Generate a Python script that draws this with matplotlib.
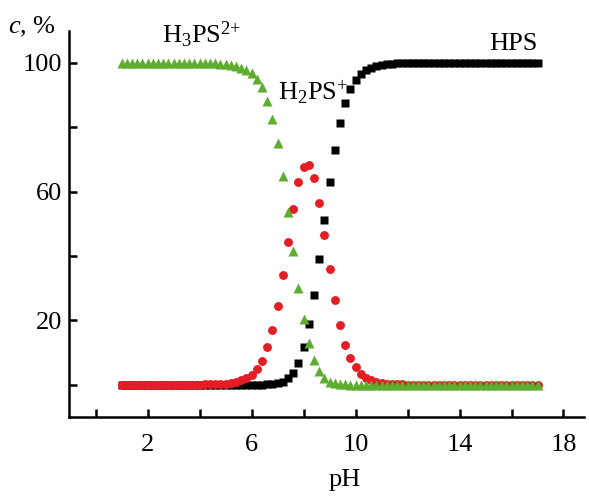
"""Species distribution of H3PS2+ / H2PS+ / HPS versus pH."""

import matplotlib

matplotlib.use("Agg")
import matplotlib.pyplot as plt

# ---------------------------------------------------------------------------
# Data, pH 1.0 ... 17.0 in 0.2 steps
# ---------------------------------------------------------------------------

PH = [
    1.0, 1.2, 1.4, 1.6, 1.8, 2.0, 2.2, 2.4, 2.6, 2.8,
    3.0, 3.2, 3.4, 3.6, 3.8, 4.0, 4.2, 4.4, 4.6, 4.8,
    5.0, 5.2, 5.4, 5.6, 5.8, 6.0, 6.2, 6.4, 6.6, 6.8,
    7.0, 7.2, 7.4, 7.6, 7.8, 8.0, 8.2, 8.4, 8.6, 8.8,
    9.0, 9.2, 9.4, 9.6, 9.8, 10.0, 10.2, 10.4, 10.6, 10.8,
    11.0, 11.2, 11.4, 11.6, 11.8, 12.0, 12.2, 12.4, 12.6, 12.8,
    13.0, 13.2, 13.4, 13.6, 13.8, 14.0, 14.2, 14.4, 14.6, 14.8,
    15.0, 15.2, 15.4, 15.6, 15.8, 16.0, 16.2, 16.4, 16.6, 16.8,
    17.0,
]

# H3PS2+
H3PS = (
    [100.0] * 15
    + [100.0, 99.9, 99.9, 99.9, 99.8, 99.6, 99.4, 99.1, 98.6, 97.9,
       96.8, 95.1, 92.5, 88.3, 82.6, 75.0, 64.8, 53.6, 41.6, 30.2,
       20.6, 13.0, 7.8, 4.3, 2.1, 1.0, 0.5, 0.2, 0.1, 0.0,
       0.0, 0.0, 0.0, 0.0, 0.0, 0.0, 0.0, 0.0, 0.0, 0.0]
    + [0.0] * 26
)

# H2PS+
H2PS = (
    [0.0] * 15
    + [0.0, 0.1, 0.1, 0.1, 0.2, 0.4, 0.6, 0.9, 1.4, 2.1,
       3.2, 4.9, 7.5, 11.7, 17.1, 24.5, 34.2, 44.3, 54.7, 63.0,
       67.6, 68.2, 64.2, 56.5, 46.6, 36.0, 26.5, 18.6, 12.4, 8.2,
       5.4, 3.5, 2.2, 1.4, 0.9, 0.6, 0.4, 0.2, 0.1, 0.1]
    + [0.0] * 26
)

# HPS
HPS = (
    [0.0] * 15
    + [0.0, 0.0, 0.0, 0.0, 0.0, 0.0, 0.0, 0.0, 0.0, 0.0,
       0.0, 0.0, 0.0, 0.1, 0.2, 0.5, 1.0, 2.1, 3.7, 6.8,
       11.8, 18.8, 28.0, 39.2, 51.3, 63.0, 73.0, 81.2, 87.5, 91.8,
       94.6, 96.5, 97.8, 98.6, 99.1, 99.4, 99.6, 99.8, 99.9, 99.9]
    + [100.0] * 26
)

X_TICKS = [0, 2, 4, 6, 8, 10, 12, 14, 16, 18]
X_TICK_LABELS = ["", "2", "", "6", "", "10", "", "14", "", "18"]
Y_TICKS = [0, 20, 40, 60, 80, 100]
Y_TICK_LABELS = ["", "20", "", "60", "", "100"]

GREEN = "#5dae2e"
RED = "#e51e25"
BLACK = "#000000"

plt.rcParams.update({
    "font.family": ["Liberation Serif", "DejaVu Serif"],
    "mathtext.fontset": "custom",
    "mathtext.rm": "Liberation Serif",
    "mathtext.it": "Liberation Serif:italic",
    "font.size": 19,
})

fig = plt.figure(figsize=(5.89, 4.97), dpi=100)
ax = fig.add_axes([0.117, 0.161, 0.875, 0.777])

ax.plot(PH, HPS, ls="none", marker="s", ms=5.6, color=BLACK,
        mec="none", zorder=3)
ax.plot(PH, H2PS, ls="none", marker="o", ms=6.4, color=RED,
        mec="none", zorder=4)
ax.plot(PH, H3PS, ls="none", marker="^", ms=7.0, color=GREEN,
        mec="none", zorder=5)

ax.set_xlim(-1.03, 18.8)
ax.set_ylim(-10, 110)

ax.set_xticks(X_TICKS)
ax.set_xticklabels(X_TICK_LABELS)
ax.set_yticks(Y_TICKS)
ax.set_yticklabels(Y_TICK_LABELS)
ax.tick_params(direction="in", length=6, width=1.8, labelsize=19)
ax.tick_params(axis="x", pad=12)
ax.tick_params(axis="y", pad=5)

for side in ("top", "right"):
    ax.spines[side].set_visible(False)
for side in ("left", "bottom"):
    ax.spines[side].set_linewidth(1.8)

ax.set_xlabel("pH", fontsize=19)
ax.xaxis.set_label_coords(0.535, -0.135)

fig.text(8 / 589, 1 - 33 / 497, "$\\it{c}$, %", fontsize=19,
         ha="left", va="baseline")

ax.text(2.55, 106.1, "H$_{\\mathrm{3}}$PS$^{\\mathrm{2}{+}}$", fontsize=19,
        ha="left", va="baseline")
ax.text(7.02, 88.5, "H$_{\\mathrm{2}}$PS$^{{+}}$", fontsize=19,
        ha="left", va="baseline", zorder=6)
ax.text(17.02, 104.0, "HPS", fontsize=19, ha="right", va="baseline")

fig.savefig("out.png", dpi=100)
